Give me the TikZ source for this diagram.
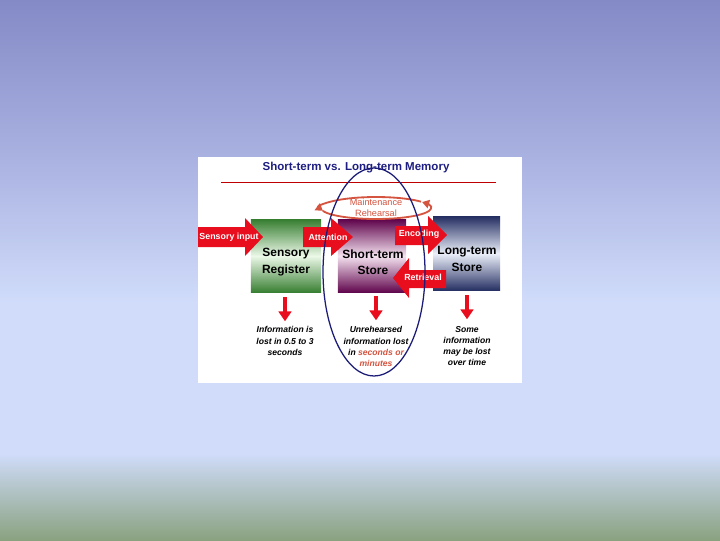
\documentclass[tikz,border=0pt]{standalone}
\usepackage{fontspec}
\setmainfont{Liberation Sans}
\usetikzlibrary{arrows.meta}
\definecolor{bgtop}{RGB}{132,138,198}
\definecolor{bgmid}{RGB}{168,176,224}
\definecolor{bglight}{RGB}{208,220,250}
\definecolor{bggreen}{RGB}{138,162,128}
\definecolor{arrowred}{RGB}{232,14,30}
\definecolor{titleblue}{RGB}{30,30,130}
\definecolor{rehearsal}{RGB}{212,84,64}
\definecolor{ringblue}{RGB}{28,28,120}
\definecolor{srdark}{RGB}{58,128,52}
\definecolor{srlight}{RGB}{236,248,232}
\definecolor{stdark}{RGB}{98,8,78}
\definecolor{stlight}{RGB}{244,226,240}
\definecolor{ltdark}{RGB}{40,50,100}
\definecolor{ltlight}{RGB}{236,240,250}
\pgfdeclareverticalshading{slidebg}{100bp}{color(0bp)=(bggreen); color(25bp)=(bggreen); color(33bp)=(bglight); color(47bp)=(bglight); color(61bp)=(bgmid); color(75bp)=(bgtop); color(100bp)=(bgtop)}
\begin{document}
\begin{tikzpicture}[x=0.025cm,y=-0.025cm,
    storebox/.style={shade,top color=#1dark,bottom color=#1dark,middle color=#1light,inner sep=0},
    boxtext/.style={font=\fontsize{8.5}{11.5}\selectfont\bfseries,align=center},
    arrowtext/.style={font=\fontsize{6.3}{7}\selectfont\bfseries,text=white},
    losstext/.style={font=\fontsize{6.1}{7.9}\selectfont\bfseries\itshape,align=center},
    loop/.style={rehearsal,line width=1.3pt,-{Triangle[width=6pt,length=5pt]}},
    drop/.style={arrowred,line width=2.8pt,-{Triangle[width=9pt,length=7pt]}}]
  \shade[shading=slidebg](0,0)rectangle(720,540);%背景
  \useasboundingbox(0,0)rectangle(720,540);
  \fill[white](198,157)rectangle(522,383);
  \node[font=\fontsize{8.2}{10}\selectfont\bfseries,text=titleblue](title)at(356,168){Short-term vs. Long-term Memory};
  \draw[red!75!black,semithick](221,182)--(496,182);
  %3つの箱
  \node[storebox=sr,minimum width=1.75cm,minimum height=1.8cm](sr)at(286,256){};
  \node[storebox=st,minimum width=1.7cm,minimum height=1.8cm](st)at(372,256){};
  \node[storebox=lt,minimum width=1.675cm,minimum height=1.825cm](lt)at(466.5,253.5){};
  \node[boxtext](srtext)at(286,262){Sensory\\Register};
  \node[boxtext](sttext)at(373,262){Short-term\\Store};
  \node[boxtext](lttext)at(467,259){Long-term\\Store};
  %赤い矢印
  \fill[arrowred](198,227)--(245,227)--(245,218)--(263,237)--(245,256)--(245,247)--(198,247)--cycle;
  \fill[arrowred](303,227)--(331,227)--(331,218)--(353,237)--(331,256)--(331,247)--(303,247)--cycle;
  \fill[arrowred](395,226)--(428,226)--(428,216)--(447,235)--(428,254)--(428,245)--(395,245)--cycle;
  \fill[arrowred](446,270)--(409,270)--(409,258)--(393,278)--(409,298)--(409,288)--(446,288)--cycle;
  \node[arrowtext](input)at(229,237){Sensory input};
  \node[arrowtext](attention)at(328,237){Attention};
  \node[arrowtext](encoding)at(419,234){Encoding};
  \node[arrowtext](retrieval)at(423,277){Retrieval};
  %維持リハーサル
  \draw[loop](376,208)++(-35:55 and 11)arc[start angle=-35,end angle=-195,x radius=55,y radius=11];
  \draw[loop](376,208)++(165:55 and 11)arc[start angle=165,end angle=-33,x radius=55,y radius=11];
  \node[font=\fontsize{6.5}{8}\selectfont,text=rehearsal,align=center](maint)at(376,207.5){Maintenance\\Rehearsal};
  %下向きの矢印と説明
  \node[losstext](lossSR)at(285,341){Information is\\lost in 0.5 to 3\\seconds};
  \node[losstext](lossST)at(376,346.5){Unrehearsed\\information lost\\in \textcolor{rehearsal}{seconds or}\\\textcolor{rehearsal}{minutes}};
  \node[losstext](lossLT)at(467,346){Some\\information\\may be lost\\over time};
  \draw[drop](lossSR.north|-sr.south)++(0,5)--++(0,24);
  \draw[drop](lossST.north|-st.south)++(0,4)--++(0,24);
  \draw[drop](lossLT.north|-lt.south)++(0,5)--++(0,24);
  \draw[ringblue,line width=0.9pt](374,272)ellipse[x radius=51,y radius=104];%短期記憶の輪
\end{tikzpicture}
\end{document}
